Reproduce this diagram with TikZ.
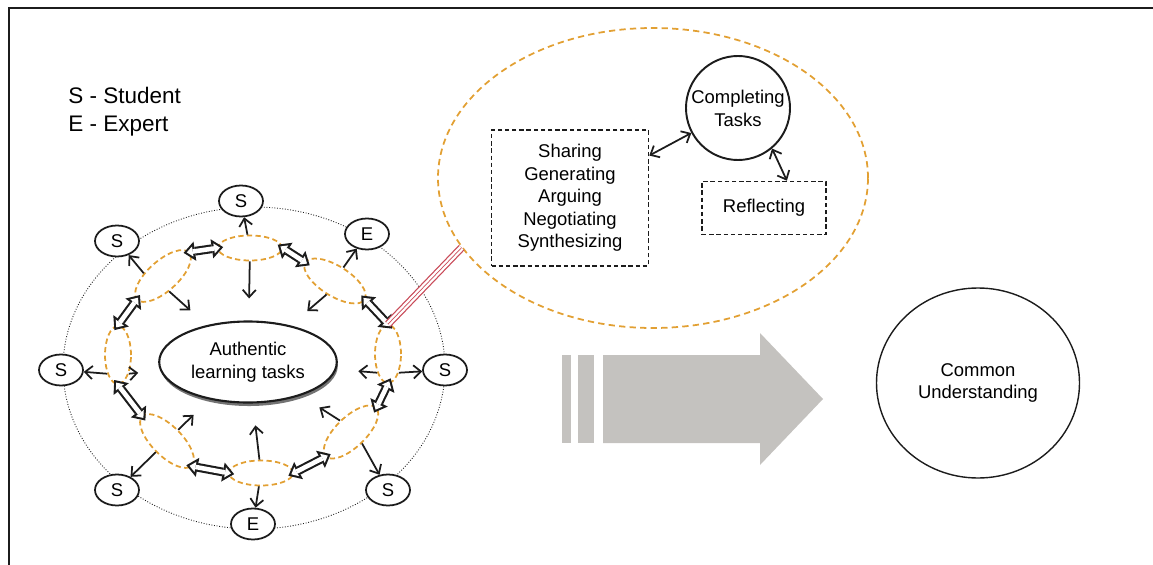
\documentclass[tikz,border=0pt]{standalone}
\usepackage{fontspec}
\setmainfont{Liberation Sans}
\usepackage{tikz}
\usetikzlibrary{positioning,arrows.meta,shapes.geometric,shadows}
\usepackage{xcolor}
\definecolor{inkblack}{HTML}{1C1C1C}
\definecolor{grporange}{HTML}{E2A033}
\definecolor{zoomred}{HTML}{C94A58}
\definecolor{flowgray}{HTML}{C4C2BF}

\begin{document}
\begin{tikzpicture}[
      x=0.2mm,y=-0.2mm,
      font=\fontsize{10.5}{13}\selectfont,
      member/.style={ellipse,draw=inkblack,line width=1pt,fill=white,inner sep=0pt,
                  minimum width=8.8mm,minimum height=6.2mm},
      task/.style={ellipse,draw=inkblack,line width=1.2pt,fill=white,align=center,
                  minimum width=34mm,minimum height=16.2mm,
                  drop shadow={shadow xshift=0.6pt,shadow yshift=-2pt,fill=black!55,opacity=1}},
      ring/.style={ellipse,draw=inkblack,line width=0.5pt,densely dotted,
                  minimum width=76.4mm,minimum height=64.4mm},
      grp/.style={ellipse,draw=grporange,line width=1pt,dash pattern=on 3pt off 1.9pt,
                  minimum width=12.8mm,minimum height=5mm,inner sep=0pt},
      grpv/.style={grp,minimum width=5.2mm,minimum height=11.6mm},
      grpd/.style={grp,minimum width=14mm,minimum height=6mm},
      legend/.style={anchor=base west,inner sep=0pt,font=\fontsize{12.8}{15}\selectfont},
      draft/.style={draw=inkblack,line width=0.9pt,dash pattern=on 2.5pt off 1.6pt,
                  align=center,font=\fontsize{10.5}{12.8}\selectfont},
      zoomarea/.style={ellipse,draw=grporange,line width=1pt,dash pattern=on 3.6pt off 2.4pt,
                  minimum width=86mm,minimum height=60mm},
      hub/.style={circle,draw=inkblack,line width=1.1pt,minimum size=20.8mm,align=center,inner sep=0pt},
      goal/.style={ellipse,draw=inkblack,line width=0.8pt,minimum width=40.6mm,minimum height=38mm,align=center},
      arr/.style={-{Straight Barb[length=4.2pt,width=7.5pt]},line width=1pt,inkblack},
      inarr/.style={arr,shorten >=4.4mm},
      arr2/.style={{Straight Barb[length=4.2pt,width=7.5pt]}-{Straight Barb[length=4.2pt,width=7.5pt]},
                  line width=1pt,inkblack},
      xchg/.style={draw=inkblack,line width=5pt,
                  arrows={Triangle[length=6.5pt,width=11pt,line width=0pt]-Triangle[length=6.5pt,width=11pt,line width=0pt]},
                  shorten <=-3.5pt,shorten >=-3.5pt,
                  postaction={draw=white,line width=2.6pt,
                  arrows={Triangle[length=3.4pt,width=5.8pt,line width=0pt]-Triangle[length=3.4pt,width=5.8pt,line width=0pt]},
                  shorten <=-1.64pt,shorten >=-1.64pt}},
      zoomline/.style={draw=zoomred,line width=0.7pt,double=white,double distance=3pt}]
    \useasboundingbox (0,0) rectangle (1153,565);
    \draw[line width=1.1pt,inkblack] (1153,8) -- (9,8) -- (9,565);

    \node[legend] (keys) at (68,103) {S - Student};
    \node[legend] (keye) at (68,131) {E - Expert};

    \node[ring] (ring) at (254,368) {};

    \node[grp] (gt) at (250,248) {};
    \node[grpd,rotate=-32] (gtr) at (335,281) {};
    \node[grpv] (gr) at (388,354) {};
    \node[grpd,rotate=44] (gbr) at (351,432) {};
    \node[grp] (gb) at (261,473) {};
    \node[grpd,rotate=-45] (gbl) at (167,441) {};
    \node[grpv] (gl) at (118,355) {};
    \node[grpd,rotate=42] (gtl) at (163,276) {};

    \node[task] (alt) at (248,362) {Authentic\\learning tasks};

    \node[member] (stop) at (241,201) {S};
    \node[member] (stl)  at (117,241) {S};
    \node[member] (etr)  at (367,234) {E};
    \node[member] (sl)   at (61,370)  {S};
    \node[member] (sr)   at (445,370) {S};
    \node[member] (sbl)  at (117,490) {S};
    \node[member] (sbr)  at (388,490) {S};
    \node[member] (ebot) at (253,524) {E};

    \draw[arr]   (gt) -- (stop);
    \draw[inarr] (gt) -- (alt);
    \draw[arr]   (gtr.north) -- (etr);
    \draw[inarr] (gtr.south) -- (alt);
    \draw[arr]   (gr.-60) -- (sr);
    \draw[inarr] (gr.240) -- (alt);
    \draw[arr]   (gbr.south) -- (sbr);
    \draw[inarr] (gbr.north) -- (alt);
    \draw[arr]   (gb) -- (ebot);
    \draw[inarr] (gb) -- (alt);
    \draw[arr]   (gbl.south) -- (sbl);
    \draw[inarr] (gbl.north) -- (alt);
    \draw[arr]   (gl.240) -- (sl);
    \draw[inarr] (gl.-60) -- (alt);
    \draw[arr]   (gtl.130) -- (stl);
    \draw[inarr] (gtl.250) -- (alt);

    \draw[xchg] (gtl.east) -- (gt.west);
    \draw[xchg] (gt.east)  -- (gtr.west);
    \draw[xchg] (gtr.east) -- (gr.north);
    \draw[xchg] (gr.south) -- (gbr.east);
    \draw[xchg] (gbr.west) -- (gb.east);
    \draw[xchg] (gb.west)  -- (gbl.east);
    \draw[xchg] (gbl.west) -- (gl.south);
    \draw[xchg] (gl.north) -- (gtl.west);

    \node[zoomarea] (detail) at (653,178) {};
    \draw[zoomline] (gr.north) -- (detail.200);
    \draw[zoomred,line width=0.4pt] (gr.north) -- (detail.200);

    \node[draft,minimum width=31.4mm,minimum height=27.2mm] (share) at (570,198)
        {Sharing\\Generating\\Arguing\\Negotiating\\Synthesizing};
    \node[hub] (compl) at (738,108) {Completing\\Tasks};
    \node[draft,minimum width=24.8mm,minimum height=10.6mm] (refl) at (764,208) {Reflecting};
    \draw[arr2] (share) -- (compl);
    \draw[arr2] (compl.-50) -- (refl.50);

    \fill[flowgray] (562,355) rectangle (571,443);
    \fill[flowgray] (578,355) rectangle (594,443);
    \fill[flowgray] (603,355) -- (760,355) -- (760,333) -- (823,399) -- (760,465)
        -- (760,443) -- (603,443) -- cycle;

    \node[goal] (common) at (978,383) {Common\\Understanding};
\end{tikzpicture}
\end{document}
